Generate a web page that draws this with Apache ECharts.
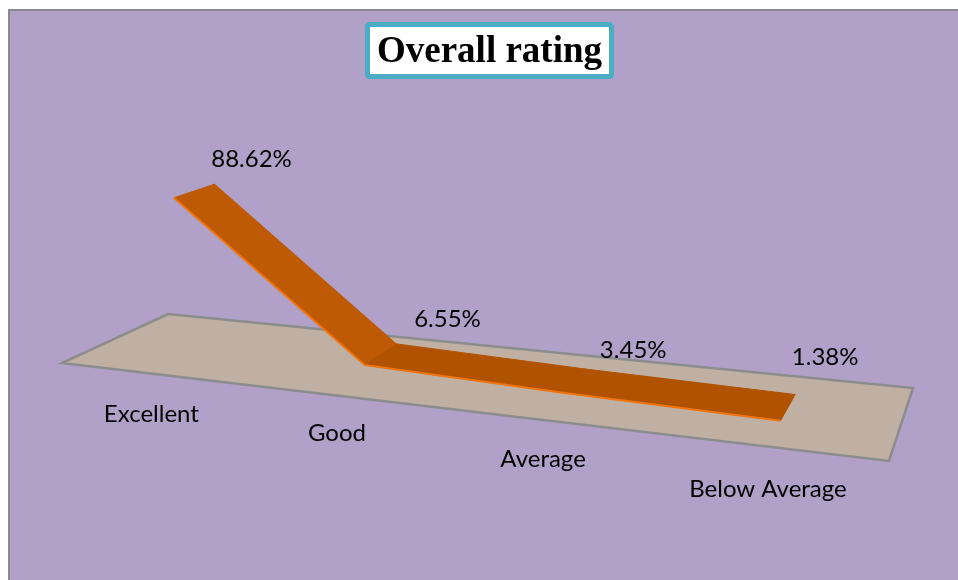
<!DOCTYPE html>
<html>
<head>
<meta charset="utf-8">
<style>html,body{margin:0;padding:0;background:#fff}#chart{width:958px;height:580px}</style>
<script src="https://cdn.jsdelivr.net/npm/echarts@6/dist/echarts.min.js"></script>
</head>
<body>
<div id="chart"></div>
<script>
var categories = ['Excellent', 'Good', 'Average', 'Below Average'];
var ratings = [88.62, 6.55, 3.45, 1.38];

// look of the tilted floor (Excel style 3D line)
var floorCorners = [[62, 363], [889, 461], [913, 388], [168, 314]];
var ribbonDepth = [0.31, 0.69];
var catScale = 0.986, catShift = 0.017;
var vanish = [404, 2547];
var lift = 0.085, liftFall = 0.115;
var segmentColors = ['#BE5A04', '#B05200'];
var labelFont = '24px Lato, "Noto Sans", sans-serif';
var valueNudge = [[37, -25], [51, -25], [48, -19], [30, -37]];
var catNudge = [[-5, 40], [0, 38], [4, 40], [1, 43]];

// unit square -> floor quad
function makeFloor(q) {
	var dx1 = q[1][0] - q[2][0], dx2 = q[3][0] - q[2][0], sx = q[0][0] - q[1][0] + q[2][0] - q[3][0];
	var dy1 = q[1][1] - q[2][1], dy2 = q[3][1] - q[2][1], sy = q[0][1] - q[1][1] + q[2][1] - q[3][1];
	var det = dx1 * dy2 - dx2 * dy1;
	var g = (sx * dy2 - dx2 * sy) / det, h = (dx1 * sy - sx * dy1) / det;
	var a = q[1][0] - q[0][0] + g * q[1][0], b = q[3][0] - q[0][0] + h * q[3][0];
	var d = q[1][1] - q[0][1] + g * q[1][1], e = q[3][1] - q[0][1] + h * q[3][1];
	return function (u, v) {
		var w = g * u + h * v + 1;
		return [(a * u + b * v + q[0][0]) / w, (d * u + e * v + q[0][1]) / w];
	};
}
var floorAt = makeFloor(floorCorners);

function project(params, api, cat, value, depth) {
	var cs = params.coordSys;
	var base = api.coord([cat, 0]), top = api.coord([cat, value]);
	var u = (base[0] - cs.x) / cs.width * catScale + catShift;
	var g = floorAt(u, depth);
	var s = lift * (1 - liftFall * depth) * (base[1] - top[1]) / cs.height;
	return [g[0] + (g[0] - vanish[0]) * s, g[1] + (g[1] - vanish[1]) * s];
}

var myChart = echarts.init(document.getElementById('chart'));

var option = {
	animation: false,
	backgroundColor: '#fff',
	title: {
		text: 'Overall rating',
		left: 367,
		top: 24,
		padding: [10, 10, 6, 10],
		backgroundColor: '#fff',
		borderColor: '#4BACC6',
		borderWidth: 5,
		borderRadius: 2,
		textStyle: { fontFamily: '"Liberation Serif", serif', fontWeight: 'bold', fontSize: 37, color: '#000' }
	},
	// panel only has its top and left edge inside the picture
	graphic: [{
		type: 'rect',
		z: -1,
		silent: true,
		shape: { x: 9, y: 10, width: 970, height: 590 },
		style: { fill: '#B1A0C7', stroke: '#8A8A8A', lineWidth: 2 }
	}],
	grid: { left: 9, top: 10, width: 949, height: 570 },
	xAxis: { type: 'category', data: categories, show: false },
	yAxis: { type: 'value', min: 0, max: 100, show: false },
	series: [
		{
			type: 'custom',
			coordinateSystem: 'cartesian2d',
			data: [[0, 0]],
			silent: true,
			z: 1,
			renderItem: function () {
				var pts = [floorAt(0, 0), floorAt(1, 0), floorAt(1, 1), floorAt(0, 1)];
				return {
					type: 'polygon',
					shape: { points: pts },
					style: { fill: '#BFB0A3', stroke: '#8C8C8C', lineWidth: 2.5 }
				};
			}
		},
		{
			type: 'custom',
			coordinateSystem: 'cartesian2d',
			data: ratings.map(function (v, i) { return [i, v]; }),
			silent: true,
			z: 2,
			renderItem: function (params, api) {
				var i = params.dataIndex;
				if (i >= ratings.length - 1) return { type: 'group', children: [] };
				var a0 = project(params, api, i, ratings[i], ribbonDepth[0]);
				var a1 = project(params, api, i, ratings[i], ribbonDepth[1]);
				var b0 = project(params, api, i + 1, ratings[i + 1], ribbonDepth[0]);
				var b1 = project(params, api, i + 1, ratings[i + 1], ribbonDepth[1]);
				var c = segmentColors[Math.min(i, 1)];
				return {
					type: 'group',
					children: [
						{ type: 'polygon', shape: { points: [a0, b0, b1, a1] }, style: { fill: c, stroke: c, lineWidth: 1 } },
						{ type: 'line', shape: { x1: a0[0], y1: a0[1], x2: b0[0], y2: b0[1] }, style: { stroke: '#F2740F', lineWidth: 2 } }
					]
				};
			}
		},
		{
			type: 'custom',
			coordinateSystem: 'cartesian2d',
			data: ratings.map(function (v, i) { return [i, v]; }),
			silent: true,
			z: 3,
			renderItem: function (params, api) {
				var i = params.dataIndex;
				var p = project(params, api, i, ratings[i], ribbonDepth[1]);
				var f = project(params, api, i, 0, 0);
				return {
					type: 'group',
					children: [
						{ type: 'text', style: { text: ratings[i].toFixed(2) + '%', x: p[0] + valueNudge[i][0], y: p[1] + valueNudge[i][1], align: 'center', verticalAlign: 'middle', font: labelFont, fill: '#000' } },
						{ type: 'text', style: { text: categories[i], x: f[0] + catNudge[i][0], y: f[1] + catNudge[i][1], align: 'center', verticalAlign: 'middle', font: labelFont, fill: '#000' } }
					]
				};
			}
		}
	]
};

myChart.setOption(option);
</script>
</body>
</html>
